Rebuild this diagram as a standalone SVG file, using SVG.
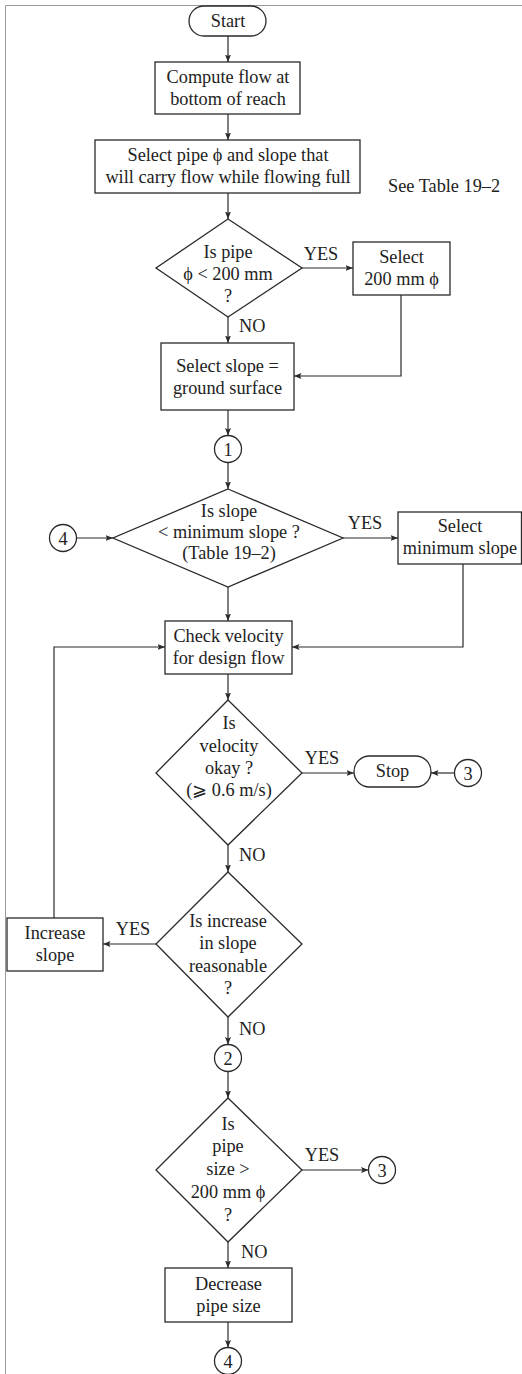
<svg xmlns="http://www.w3.org/2000/svg" width="522" height="1374" viewBox="0 0 522 1374" font-family="'Liberation Serif', 'DejaVu Serif', 'Noto Serif', 'Times New Roman', serif">
<style>
.bg{fill:#fff}
.frame{fill:none;stroke:#9a9a9a;stroke-width:1}
.box{fill:#fff;stroke:#2a2a2a;stroke-width:1.3}
.ln{fill:none;stroke:#2a2a2a;stroke-width:1.2}
text{font-family:'Liberation Serif','DejaVu Serif','Noto Serif','Times New Roman',serif;font-size:18.3px;fill:#222}
.c{text-anchor:middle}
</style>
<defs>
<marker id="ah" markerUnits="userSpaceOnUse" markerWidth="8" markerHeight="6" refX="7.5" refY="3" orient="auto">
<path d="M0,0 L7.5,3 L0,6 L1.5,3 z" fill="#2a2a2a"/>
</marker>
</defs>
<rect class="bg" x="0" y="0" width="522" height="1374"/>
<path class="frame" d="M5.5,1374 V5.5 H522"/>

<g id="connectors">
<line class="ln" x1="228" y1="36" x2="228" y2="62" marker-end="url(#ah)"/>
<line class="ln" x1="228" y1="114" x2="228" y2="140" marker-end="url(#ah)"/>
<line class="ln" x1="228" y1="193" x2="228" y2="219" marker-end="url(#ah)"/>
<line class="ln" x1="302" y1="268" x2="353" y2="268" marker-end="url(#ah)"/>
<line class="ln" x1="228" y1="317" x2="228" y2="343" marker-end="url(#ah)"/>
<polyline class="ln" points="401,295 401,376 294,376" marker-end="url(#ah)"/>
<line class="ln" x1="228" y1="410" x2="228" y2="435.5" marker-end="url(#ah)"/>
<line class="ln" x1="228" y1="462.5" x2="228" y2="489" marker-end="url(#ah)"/>
<line class="ln" x1="76.5" y1="538" x2="113" y2="538" marker-end="url(#ah)"/>
<line class="ln" x1="343" y1="538" x2="398" y2="538" marker-end="url(#ah)"/>
<line class="ln" x1="228" y1="587" x2="228" y2="621" marker-end="url(#ah)"/>
<polyline class="ln" points="463,564 463,647 292,647" marker-end="url(#ah)"/>
<line class="ln" x1="228" y1="674" x2="228" y2="700" marker-end="url(#ah)"/>
<line class="ln" x1="302" y1="773" x2="354" y2="773" marker-end="url(#ah)"/>
<line class="ln" x1="454.5" y1="773" x2="431" y2="773" marker-end="url(#ah)"/>
<line class="ln" x1="228" y1="845" x2="228" y2="872" marker-end="url(#ah)"/>
<line class="ln" x1="156" y1="944" x2="103" y2="944" marker-end="url(#ah)"/>
<polyline class="ln" points="54,918 54,647 165,647" marker-end="url(#ah)"/>
<line class="ln" x1="228" y1="1017" x2="228" y2="1044.5" marker-end="url(#ah)"/>
<line class="ln" x1="228" y1="1071.5" x2="228" y2="1098" marker-end="url(#ah)"/>
<line class="ln" x1="302" y1="1170" x2="368.5" y2="1170" marker-end="url(#ah)"/>
<line class="ln" x1="228" y1="1242" x2="228" y2="1268" marker-end="url(#ah)"/>
<line class="ln" x1="228" y1="1322" x2="228" y2="1347.5" marker-end="url(#ah)"/>
</g>

<g id="labels">
<text class="c" x="321" y="260">YES</text>
<text x="239" y="332">NO</text>
<text class="c" x="365" y="529">YES</text>
<text class="c" x="322" y="764">YES</text>
<text x="239" y="861">NO</text>
<text class="c" x="133" y="935">YES</text>
<text x="239" y="1035">NO</text>
<text class="c" x="322" y="1161">YES</text>
<text x="241" y="1258">NO</text>
<text x="388" y="192">See Table 19–2</text>
</g>

<g id="start">
<rect class="box" x="189" y="6" width="77" height="30" rx="15"/>
<text class="c" x="228" y="27">Start</text>
</g>
<g id="compute-flow">
<rect class="box" x="155" y="62" width="145" height="52"/>
<text class="c" x="228" y="83">Compute flow at</text>
<text class="c" x="228" y="105">bottom of reach</text>
</g>
<g id="select-pipe">
<rect class="box" x="95" y="140" width="265" height="53"/>
<text class="c" x="228" y="161">Select pipe ϕ and slope that</text>
<text class="c" x="228" y="183">will carry flow while flowing full</text>
</g>
<g id="is-pipe-lt-200">
<polygon class="box" points="228,219 302,268 228,317 156,268"/>
<text class="c" x="228" y="258">Is pipe</text>
<text class="c" x="228" y="280">ϕ &lt; 200 mm</text>
<text class="c" x="228" y="302">?</text>
</g>
<g id="select-200">
<rect class="box" x="353" y="242" width="97" height="53"/>
<text class="c" x="401.5" y="263">Select</text>
<text class="c" x="401.5" y="285">200 mm ϕ</text>
</g>
<g id="select-slope-ground">
<rect class="box" x="161" y="343" width="133" height="67"/>
<text class="c" x="227.5" y="372">Select slope =</text>
<text class="c" x="227.5" y="394">ground surface</text>
</g>
<g id="conn-1">
<circle class="box" cx="228" cy="449" r="13.5"/>
<text class="c" x="228" y="455.5">1</text>
</g>
<g id="conn-4-left">
<circle class="box" cx="63" cy="538" r="13.5"/>
<text class="c" x="63" y="544.5">4</text>
</g>
<g id="is-slope-lt-min">
<polygon class="box" points="228,489 343,538 228,587 113,538"/>
<text class="c" x="229" y="517">Is slope</text>
<text class="c" x="229" y="538">&lt; minimum slope ?</text>
<text class="c" x="229" y="559">(Table 19–2)</text>
</g>
<g id="select-min-slope">
<rect class="box" x="398" y="512" width="123.5" height="52"/>
<text class="c" x="460" y="532">Select</text>
<text class="c" x="460" y="554">minimum slope</text>
</g>
<g id="check-velocity">
<rect class="box" x="165" y="621" width="127" height="53"/>
<text class="c" x="228.5" y="642">Check velocity</text>
<text class="c" x="228.5" y="664">for design flow</text>
</g>
<g id="is-velocity-ok">
<polygon class="box" points="228,700 302,773 228,845 156,773"/>
<text class="c" x="229" y="729">Is</text>
<text class="c" x="229" y="752">velocity</text>
<text class="c" x="229" y="774">okay ?</text>
<text class="c" x="229" y="796">(⩾ 0.6 m/s)</text>
</g>
<g id="stop">
<rect class="box" x="354" y="756" width="77" height="31" rx="15.5"/>
<text class="c" x="392.5" y="777">Stop</text>
</g>
<g id="conn-3-stop">
<circle class="box" cx="468" cy="773" r="13.5"/>
<text class="c" x="468" y="779.5">3</text>
</g>
<g id="is-increase-reasonable">
<polygon class="box" points="228,872 302,944 228,1017 156,944"/>
<text class="c" x="228" y="927">Is increase</text>
<text class="c" x="228" y="949">in slope</text>
<text class="c" x="228" y="972">reasonable</text>
<text class="c" x="228" y="994">?</text>
</g>
<g id="increase-slope">
<rect class="box" x="7" y="918" width="96" height="53"/>
<text class="c" x="55" y="939">Increase</text>
<text class="c" x="55" y="961">slope</text>
</g>
<g id="conn-2">
<circle class="box" cx="228" cy="1058" r="13.5"/>
<text class="c" x="228" y="1064.5">2</text>
</g>
<g id="is-pipe-gt-200">
<polygon class="box" points="228,1098 302,1170 228,1242 156,1170"/>
<text class="c" x="228" y="1130">Is</text>
<text class="c" x="228" y="1152">pipe</text>
<text class="c" x="228" y="1175">size &gt;</text>
<text class="c" x="228" y="1198">200 mm ϕ</text>
<text class="c" x="228" y="1221">?</text>
</g>
<g id="conn-3-right">
<circle class="box" cx="382" cy="1170" r="13.5"/>
<text class="c" x="382" y="1176.5">3</text>
</g>
<g id="decrease-pipe">
<rect class="box" x="165" y="1268" width="127" height="54"/>
<text class="c" x="228.5" y="1290">Decrease</text>
<text class="c" x="228.5" y="1312">pipe size</text>
</g>
<g id="conn-4-bottom">
<circle class="box" cx="228" cy="1361" r="13.5"/>
<text class="c" x="228" y="1367.5">4</text>
</g>
</svg>
